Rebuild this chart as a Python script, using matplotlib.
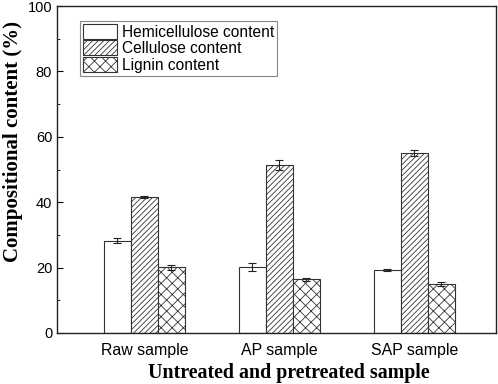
import numpy as np
import matplotlib
matplotlib.use('Agg')
import matplotlib.pyplot as plt
from matplotlib.ticker import MultipleLocator

samples = ['Raw sample', 'AP sample', 'SAP sample']
hemicellulose = [28.2, 20.3, 19.4]
hemicellulose_err = [0.8, 1.2, 0.3]
cellulose = [41.7, 51.3, 55.1]
cellulose_err = [0.3, 1.5, 1.0]
lignin = [20.1, 16.4, 15.1]
lignin_err = [0.7, 0.5, 0.6]

plt.rcParams['font.family'] = ['Liberation Sans', 'DejaVu Sans']
plt.rcParams['hatch.linewidth'] = 0.6
plt.rcParams['hatch.color'] = '#555555'

fig = plt.figure(figsize=(4.98, 3.84), dpi=100)
ax = fig.add_axes([57 / 498, 1 - 333 / 384, 439 / 498, 327 / 384])

x = np.arange(1, len(samples) + 1)
w = 0.2
edge = '#333333'
err_kw = dict(ecolor='#222222', elinewidth=0.8, capsize=3, capthick=0.8)
ax.bar(x - w, hemicellulose, w, yerr=hemicellulose_err, color='white', edgecolor=edge,
       linewidth=0.8, error_kw=err_kw, label='Hemicellulose content')
ax.bar(x, cellulose, w, yerr=cellulose_err, color='white', edgecolor=edge, hatch='//////',
       linewidth=0.8, error_kw=err_kw, label='Cellulose content')
ax.bar(x + w, lignin, w, yerr=lignin_err, color='white', edgecolor=edge, hatch='xxx',
       linewidth=0.8, error_kw=err_kw, label='Lignin content')

ax.set_xlim(0.352, 3.604)
ax.set_ylim(0, 100)
ax.set_xticks(x)
ax.set_xticklabels(samples, fontsize=11.4)
ax.tick_params(axis='x', length=0, pad=7)
ax.yaxis.set_major_locator(MultipleLocator(20))
ax.yaxis.set_minor_locator(MultipleLocator(10))
ax.tick_params(axis='y', which='major', direction='in', length=4, labelsize=10.5)
ax.tick_params(axis='y', which='minor', direction='in', length=2)
for s in ax.spines.values():
    s.set_linewidth(1.0)
    s.set_color('#222222')

ax.set_xlabel('Untreated and pretreated sample', fontsize=14.4, fontweight='bold',
              family='Liberation Serif')
ax.xaxis.set_label_coords(0.528, -0.093)
ax.set_ylabel('Compositional content (%)', fontsize=15, fontweight='bold',
              family='Liberation Serif')
ax.yaxis.set_label_coords(-0.078, 0.585)

leg = ax.legend(loc='upper left', bbox_to_anchor=(0.052, 0.955), fontsize=11.2,
                frameon=True, fancybox=False, edgecolor='#888888', framealpha=1,
                handlelength=2.2, handleheight=1.1, handletextpad=0.3,
                labelspacing=0.05, borderpad=0.2, borderaxespad=0)
leg.get_frame().set_linewidth(0.8)

fig.savefig('out.png', dpi=100)
